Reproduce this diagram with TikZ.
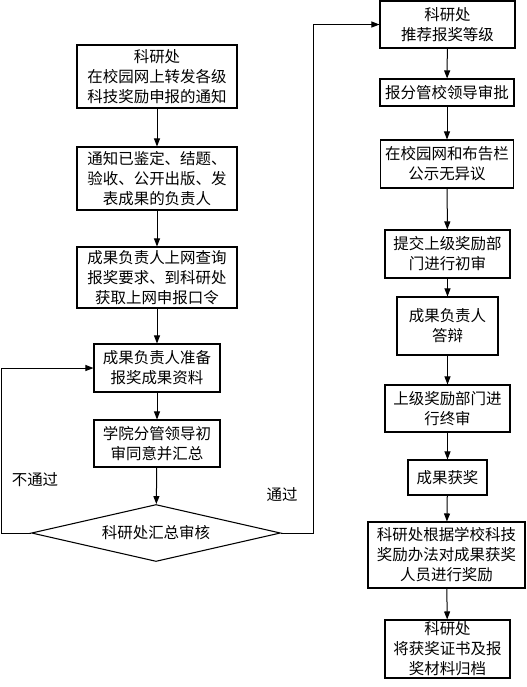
\documentclass[tikz,border=0pt]{standalone}
\usepackage{fontspec}
\setmainfont{Noto Sans CJK SC}
\usetikzlibrary{shapes.geometric,arrows.meta}
\tikzset{
  box/.style={draw, line width=0.8pt, align=center, inner sep=0pt, font=\fontsize{11.6}{15}\selectfont},
  dia/.style={draw, diamond, line width=0.8pt, inner sep=0pt, aspect=4.37, font=\fontsize{11.6}{15}\selectfont},
  lbl/.style={inner sep=0pt, font=\fontsize{11.6}{15}\selectfont},
  arr/.style={line width=0.75pt, -{Triangle[length=6pt,width=4.5pt]}}
}
\begin{document}
\begin{tikzpicture}[x=0.75pt,y=-0.75pt]
\useasboundingbox (0,0) rectangle (527,687);
% left column
\node[box, minimum width=120pt, minimum height=47.25pt] (L1) at (157,76.5) {科研处\\在校园网上转发各级\\科技奖励申报的通知};
\node[box, minimum width=120pt, minimum height=47.25pt] (L2) at (157,178.5) {通知已鉴定、结题、\\验收、公开出版、发\\表成果的负责人};
\node[box, minimum width=120pt, minimum height=45.75pt] (L3) at (157,277.5) {成果负责人上网查询\\报奖要求、到科研处\\获取上网申报口令};
\node[box, minimum width=94.5pt, minimum height=36pt] (L4) at (157,368) {成果负责人准备\\报奖成果资料};
\node[box, minimum width=94.5pt, minimum height=35.25pt] (L5) at (157,443.5) {学院分管领导初\\审同意并汇总};
\node[dia, minimum width=186.75pt, minimum height=42.75pt] (D) at (156,533) {科研处汇总审核};
\node[lbl] (no) at (35,480) {不通过};
\node[lbl] (yes) at (282,495) {通过};
% right column
\node[box, minimum width=101.25pt, minimum height=35.25pt] (R1) at (447.5,24.5) {科研处\\推荐报奖等级};
\node[box, minimum width=100.5pt, minimum height=20.25pt] (R2) at (447,92.5) {报分管校领导审批};
\node[box, minimum width=99.75pt, minimum height=36pt] (R3) at (447,164) {在校园网和布告栏\\公示无异议};
\node[box, minimum width=93.75pt, minimum height=36pt] (R4) at (447.5,254) {提交上级奖励部\\门进行初审};
\node[box, minimum width=75.75pt, minimum height=43.5pt] (R5) at (447.5,326) {成果负责人\\答辩};
\node[box, minimum width=93.75pt, minimum height=35.25pt] (R6) at (447.5,408.5) {上级奖励部门进\\行终审};
\node[box, minimum width=59.25pt, minimum height=26.25pt] (R7) at (447.5,477.5) {成果获奖};
\node[box, minimum width=117.75pt, minimum height=49.5pt] (R8) at (446.5,555) {科研处根据学校科技\\奖励办法对成果获奖\\人员进行奖励};
\node[box, minimum width=93.75pt, minimum height=43.5pt] (R9) at (447.5,649) {科研处\\将获奖证书及报\\奖材料归档};
% connectors
\draw[arr] (L1) -- (L2);
\draw[arr] (L2) -- (L3);
\draw[arr] (L3) -- (L4);
\draw[arr] (L4) -- (L5);
\draw[arr] (L5) -- (D);
\draw[arr] (D.west) -- ++(-29.5,0) |- (L4.west);
\draw[arr] (D.east) -- ++(32,0) |- (R1.west);
\draw[arr] (R1) -- (R2);
\draw[arr] (R2) -- (R3);
\draw[arr] (R3) -- (R4);
\draw[arr] (R4) -- (R5);
\draw[arr] (R5) -- (R6);
\draw[arr] (R6) -- (R7);
\draw[arr] (R7) -- (R8);
\draw[arr] (R8) -- (R9);
\end{tikzpicture}
\end{document}
